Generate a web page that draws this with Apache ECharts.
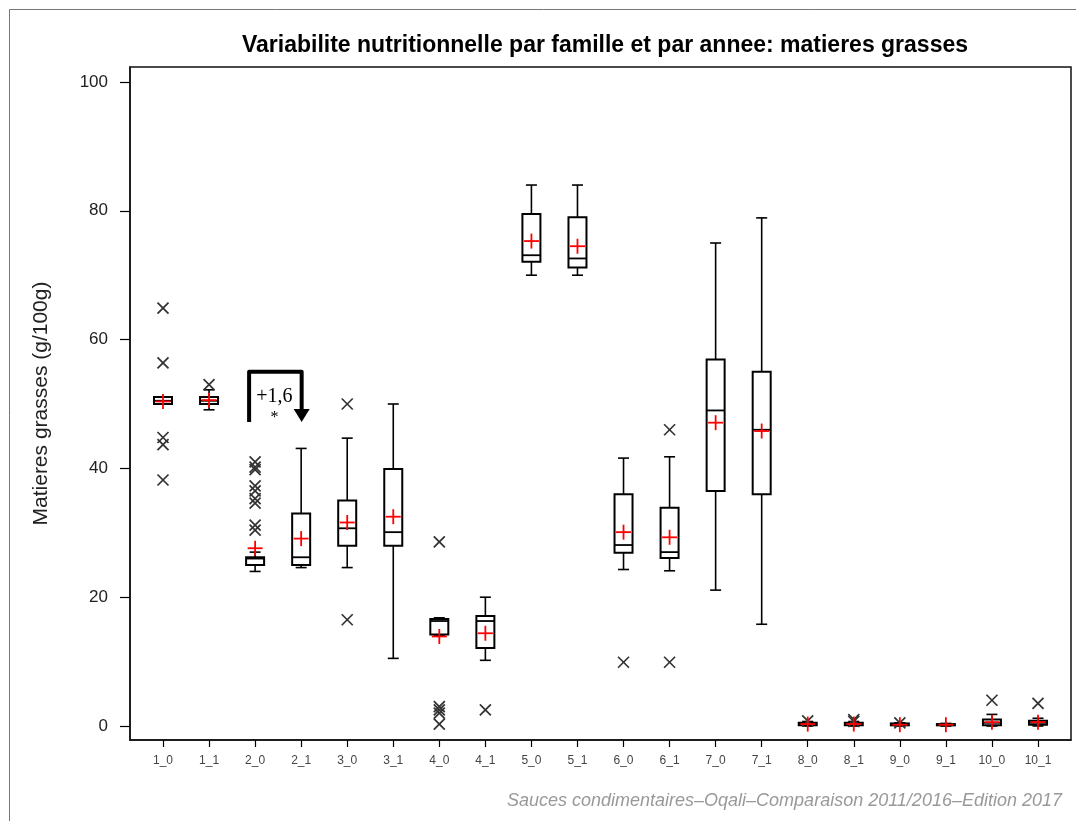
<!DOCTYPE html>
<html>
<head>
<meta charset="utf-8">
<script src="https://cdn.jsdelivr.net/npm/echarts@6/dist/echarts.min.js"></script>
<style>html,body{margin:0;padding:0;background:#fff}#c{width:1076px;height:821px}</style>
</head>
<body>
<div id="c"></div>
<script>
const categories = ['1_0','1_1','2_0','2_1','3_0','3_1','4_0','4_1','5_0','5_1','6_0','6_1','7_0','7_1','8_0','8_1','9_0','9_1','10_0','10_1'];
// [min whisker, Q1, median, Q3, max whisker]
const boxes = [
  [50.0, 50.0, 50.5, 51.1, 51.1],
  [49.1, 50.0, 50.5, 51.1, 52.2],
  [24.0, 25.0, 26.0, 26.2, 27.0],
  [24.6, 25.0, 26.2, 33.0, 43.1],
  [24.6, 28.0, 30.7, 35.0, 44.7],
  [10.5, 28.0, 30.1, 39.9, 50.0],
  [14.0, 14.2, 16.3, 16.6, 16.8],
  [10.2, 12.1, 16.3, 17.1, 20.0],
  [70.0, 72.1, 73.1, 79.5, 84.0],
  [70.0, 71.2, 72.6, 79.0, 84.0],
  [24.3, 26.9, 28.1, 36.0, 41.6],
  [24.1, 26.1, 27.0, 33.9, 41.8],
  [21.1, 36.5, 49.0, 56.9, 75.0],
  [15.8, 36.0, 46.0, 55.0, 78.9],
  [0.0, 0.1, 0.3, 0.5, 0.7],
  [0.0, 0.1, 0.3, 0.5, 0.7],
  [0.0, 0.1, 0.2, 0.4, 0.5],
  [0.0, 0.1, 0.2, 0.3, 0.4],
  [0.0, 0.1, 0.5, 1.0, 1.8],
  [0.0, 0.2, 0.5, 0.8, 1.2]
];
const means = [50.4, 50.6, 27.6, 29.1, 31.6, 32.5, 13.9, 14.4, 75.3, 74.5, 30.1, 29.3, 47.1, 45.8, 0.3, 0.3, 0.2, 0.2, 0.6, 0.6];
const outliers = [
  [64.9, 56.4, 44.8, 43.7, 38.2],
  [53.0],
  [41.0, 40.2, 39.8, 37.3, 36.5, 35.3, 34.6, 31.2, 30.4],
  [],
  [50.0, 16.5],
  [],
  [28.6, 3.0, 2.5, 2.0, 0.3],
  [2.5],
  [],
  [],
  [9.9],
  [46.0, 9.9],
  [],
  [],
  [0.8],
  [1.0, 0.7],
  [0.5],
  [],
  [4.0],
  [3.5]
];
const yTicks = [0, 20, 40, 60, 80, 100];
const titleText = 'Variabilite nutritionnelle par famille et par annee: matieres grasses';
const yName = 'Matieres grasses (g/100g)';
const footer = 'Sauces condimentaires\u2013Oqali\u2013Comparaison 2011/2016\u2013Edition 2017';
const annotation = ['+1,6', '*'];

const FONT = '"Liberation Sans", Arial, sans-serif';
const SERIF = '"Liberation Serif", "DejaVu Serif", serif';
const chart = echarts.init(document.getElementById('c'), null, {renderer: 'canvas'});

const catIdx = categories.map((c, i) => i);
const boxData = categories.map((c, i) => [i].concat(boxes[i]));
const meanData = categories.map((c, i) => [i, means[i]]);
const outData = [];
outliers.forEach((arr, i) => arr.forEach(v => outData.push([i, v])));

function renderBox(params, api) {
  const i = api.value(0);
  const mn = api.coord([i, api.value(1)]);
  const q1 = api.coord([i, api.value(2)]);
  const md = api.coord([i, api.value(3)]);
  const q3 = api.coord([i, api.value(4)]);
  const mx = api.coord([i, api.value(5)]);
  const x = mn[0];
  const hw = 9, cw = 5.5;
  const ls = {stroke: '#000', lineWidth: 1.6, fill: null};
  const children = [];
  if (mx[1] < q3[1]) {
    children.push({type: 'line', shape: {x1: x, y1: q3[1], x2: x, y2: mx[1]}, style: ls});
    children.push({type: 'line', shape: {x1: x - cw, y1: mx[1], x2: x + cw, y2: mx[1]}, style: ls});
  }
  if (mn[1] > q1[1]) {
    children.push({type: 'line', shape: {x1: x, y1: q1[1], x2: x, y2: mn[1]}, style: ls});
    children.push({type: 'line', shape: {x1: x - cw, y1: mn[1], x2: x + cw, y2: mn[1]}, style: ls});
  }
  children.push({type: 'rect', shape: {x: x - hw, y: q3[1], width: 2 * hw, height: Math.max(q1[1] - q3[1], 1)},
    style: {stroke: '#000', lineWidth: 2, fill: '#fff'}});
  children.push({type: 'line', shape: {x1: x - hw, y1: md[1], x2: x + hw, y2: md[1]}, style: {stroke: '#000', lineWidth: 1.8}});
  return {type: 'group', children: children};
}
function renderCross(params, api) {
  const p = api.coord([api.value(0), api.value(1)]);
  const s = 5.5;
  const st = {stroke: '#333', lineWidth: 1.7};
  return {type: 'group', children: [
    {type: 'line', shape: {x1: p[0] - s, y1: p[1] - s, x2: p[0] + s, y2: p[1] + s}, style: st},
    {type: 'line', shape: {x1: p[0] - s, y1: p[1] + s, x2: p[0] + s, y2: p[1] - s}, style: st}
  ]};
}
function renderPlus(params, api) {
  const p = api.coord([api.value(0), api.value(1)]);
  const s = 7.5;
  const st = {stroke: '#ff0000', lineWidth: 1.8};
  return {type: 'group', children: [
    {type: 'line', shape: {x1: p[0] - s, y1: p[1], x2: p[0] + s, y2: p[1]}, style: st},
    {type: 'line', shape: {x1: p[0], y1: p[1] - s, x2: p[0], y2: p[1] + s}, style: st}
  ]};
}

const option = {
  animation: false,
  backgroundColor: '#fff',
  textStyle: {fontFamily: FONT},
  title: [
    {text: titleText, left: 600, top: 29, textAlign: 'center',
      textStyle: {fontFamily: FONT, fontSize: 23, fontWeight: 'bold', color: '#000'}},
    {text: footer, right: 9, top: 787,
      textStyle: {fontFamily: FONT, fontSize: 18, fontStyle: 'italic', fontWeight: 'normal', color: '#999'}}
  ],
  grid: {left: 130, right: 5, top: 67, bottom: 81, show: true, borderColor: '#111', borderWidth: 1.5, backgroundColor: 'transparent'},
  xAxis: {
    type: 'value', min: -0.7166, max: 19.7166,
    axisLine: {show: true, onZero: false, lineStyle: {color: '#111', width: 1.5}},
    axisTick: {show: true, length: 7, customValues: catIdx, lineStyle: {color: '#000', width: 1.2}},
    axisLabel: {show: true, customValues: catIdx, formatter: v => categories[Math.round(v)],
      fontFamily: FONT, fontSize: 12, color: '#444', margin: 15},
    splitLine: {show: false}
  },
  yAxis: {
    type: 'value', min: -2.174, max: 102.329,
    axisLine: {show: true, onZero: false, lineStyle: {color: '#111', width: 1.5}},
    axisTick: {show: true, length: 10, customValues: yTicks, lineStyle: {color: '#000', width: 1.2}},
    axisLabel: {show: true, customValues: yTicks, fontFamily: FONT, fontSize: 17, color: '#222', margin: 22},
    splitLine: {show: false},
    name: yName, nameLocation: 'middle', nameGap: 78, nameRotate: 90,
    nameTextStyle: {fontFamily: FONT, fontSize: 21, color: '#222'}
  },
  series: [
    {type: 'custom', name: 'box', renderItem: renderBox, data: boxData,
      encode: {x: 0, y: [1, 2, 3, 4, 5]}, z: 2},
    {type: 'custom', name: 'outliers', renderItem: renderCross, data: outData,
      encode: {x: 0, y: 1}, z: 3},
    {type: 'custom', name: 'mean', renderItem: renderPlus, data: meanData,
      encode: {x: 0, y: 1}, z: 4}
  ]
};
chart.setOption(option);

// annotation bracket anchored to data coordinates
const xl = chart.convertToPixel({xAxisIndex: 0}, 2) - 6;
const xr = chart.convertToPixel({xAxisIndex: 0}, 3) + 0.5;
const yTop = chart.convertToPixel({yAxisIndex: 0}, 55);
const yBot = chart.convertToPixel({yAxisIndex: 0}, 47.2);
const headH = 13, headW = 8;
chart.setOption({
  graphic: [
    {type: 'rect', silent: true, z: -10, shape: {x: 9.5, y: 9.5, width: 1200, height: 1000},
      style: {fill: null, stroke: '#777', lineWidth: 1}},
    {type: 'polyline', silent: true, z: 100,
      shape: {points: [[xl, yBot], [xl, yTop], [xr, yTop], [xr, yBot - headH + 1]]},
      style: {stroke: '#000', lineWidth: 4, lineJoin: 'round', fill: null}},
    {type: 'polygon', silent: true, z: 100,
      shape: {points: [[xr - headW, yBot - headH], [xr + headW, yBot - headH], [xr, yBot]]},
      style: {fill: '#000'}},
    {type: 'text', silent: true, z: 100, x: (xl + xr) / 2 - 1, y: yTop + 25,
      style: {text: annotation[0], fontFamily: SERIF, fontSize: 20, fill: '#000',
        align: 'center', verticalAlign: 'middle'}},
    {type: 'text', silent: true, z: 100, x: (xl + xr) / 2 - 1, y: yTop + 46,
      style: {text: annotation[1], fontFamily: SERIF, fontSize: 16, fill: '#000',
        align: 'center', verticalAlign: 'middle'}}
  ]
});
</script>
</body>
</html>
